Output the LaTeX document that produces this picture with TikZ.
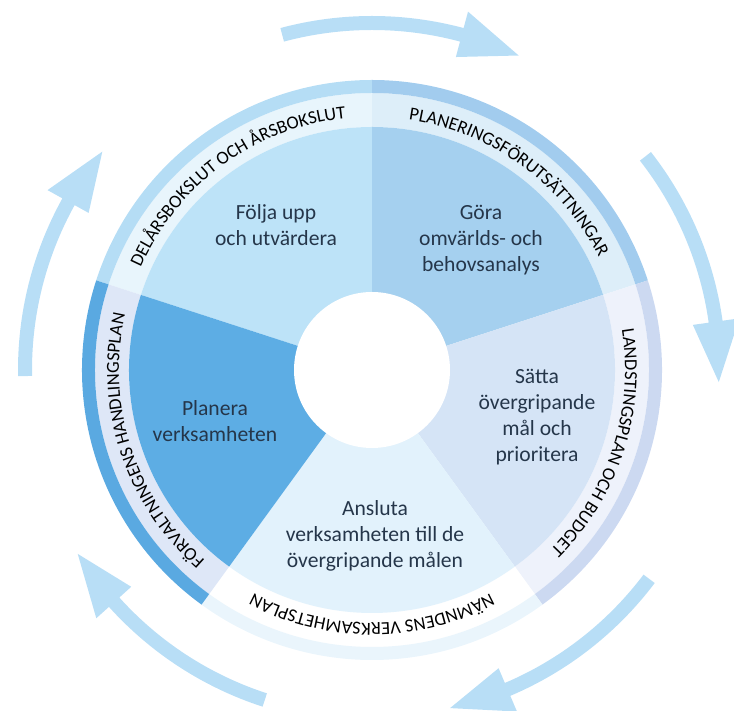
\documentclass[tikz,border=0pt]{standalone}
\usepackage{fontspec}
\setmainfont{Carlito}
\usetikzlibrary{calc,decorations.text}

\definecolor{arrowblue}{HTML}{B8DEF6}
\definecolor{foljafill}{HTML}{BDE3F8}
\definecolor{gorafill}{HTML}{A5D0EF}
\definecolor{sattafill}{HTML}{D5E4F6}
\definecolor{anslutafill}{HTML}{E2F2FC}
\definecolor{planerafill}{HTML}{5DADE4}
\definecolor{textdark}{HTML}{25364A}
\definecolor{delarsband}{HTML}{E8F5FC}
\definecolor{delarsedge}{HTML}{B5DDF5}
\definecolor{planband}{HTML}{DDEEF9}
\definecolor{planedge}{HTML}{A2CCEE}
\definecolor{landband}{HTML}{EEF2FB}
\definecolor{landedge}{HTML}{CCD9F1}
\definecolor{namndedge}{HTML}{EAF5FC}
\definecolor{forvband}{HTML}{DEE7F7}
\definecolor{forvedge}{HTML}{5AA9E1}

\tikzset{
  sectortext/.style={align=center, text=textdark, font=\fontsize{10.8}{13}\selectfont},
  ringtext/.style={decorate, decoration={text along path, text align=center,
      text={|\fontsize{9.2}{10}\selectfont\color{black}|#1}}},
}

% annular segment: start angle, end angle, inner radius, outer radius
\newcommand{\ringpart}[5]{%
  \fill[#5] ($(c)+(#1:#4)$) arc[start angle=#1, end angle=#2, radius=#4]
    -- ($(c)+(#2:#3)$) arc[start angle=#2, end angle=#1, radius=#3] -- cycle;}

% curved arrow: tail angle, tip angle (clockwise)
\newcommand{\cyclearrow}[2]{%
  \fill[arrowblue] ($(c)+(#1:354)$) arc[start angle=#1, end angle=#2+10, radius=354]
    -- ($(c)+(#2+10:371)$) -- ($(c)+(#2:347)$) -- ($(c)+(#2+10:324)$)
    -- ($(c)+(#2+10:340)$) arc[start angle=#2+10, end angle=#1, radius=340] -- cycle;}

\begin{document}
\begin{tikzpicture}[x=0.5pt,y=0.5pt]
  \useasboundingbox (0,0) rectangle (734,711);
  \coordinate (c) at (372,341);

  % arrows round the wheel
  \cyclearrow{105}{65}
  \cyclearrow{38}{-2}
  \cyclearrow{-37}{-77}
  \cyclearrow{252}{212}
  \cyclearrow{181}{141}

  % outer ring
  \ringpart{90}{162}{243}{277}{delarsband}
  \ringpart{90}{162}{277}{290}{delarsedge}
  \ringpart{18}{90}{243}{277}{planband}
  \ringpart{18}{90}{277}{290}{planedge}
  \ringpart{-54}{18}{243}{277}{landband}
  \ringpart{-54}{18}{277}{290}{landedge}
  \ringpart{234}{306}{243}{277}{white}
  \ringpart{234}{306}{277}{290}{namndedge}
  \ringpart{162}{234}{243}{277}{forvband}
  \ringpart{162}{234}{277}{290}{forvedge}

  % sectors
  \fill[foljafill] (c) -- ($(c)+(90:243)$) arc[start angle=90, end angle=162, radius=243] -- cycle;
  \fill[gorafill] (c) -- ($(c)+(18:243)$) arc[start angle=18, end angle=90, radius=243] -- cycle;
  \fill[sattafill] (c) -- ($(c)+(-54:243)$) arc[start angle=-54, end angle=18, radius=243] -- cycle;
  \fill[anslutafill] (c) -- ($(c)+(234:243)$) arc[start angle=234, end angle=306, radius=243] -- cycle;
  \fill[planerafill] (c) -- ($(c)+(162:243)$) arc[start angle=162, end angle=234, radius=243] -- cycle;
  \fill[white] (c) circle[radius=78];

  \node[sectortext] (folja) at (276,486) {Följa upp\\och utvärdera};
  \node[sectortext] (gora) at (481,471) {Göra\\omvärlds- och\\behovsanalys};
  \node[sectortext] (satta) at (537,294) {Sätta\\övergripande\\mål och\\prioritera};
  \node[sectortext] (ansluta) at (375,175) {Ansluta\\verksamheten till de\\övergripande målen};
  \node[sectortext] (planera) at (215,290) {Planera\\verksamheten};

  % ring labels, read clockwise
  \path[ringtext={DELÅRSBOKSLUT OCH ÅRSBOKSLUT}] ($(c)+(162:253)$) arc[start angle=162, end angle=90, radius=253];
  \path[ringtext={PLANERINGSFÖRUTSÄTTNINGAR}] ($(c)+(90:253)$) arc[start angle=90, end angle=18, radius=253];
  \path[ringtext={LANDSTINGSPLAN OCH BUDGET}] ($(c)+(18:253)$) arc[start angle=18, end angle=-54, radius=253];
  \path[ringtext={NÄMNDENS VERKSAMHETSPLAN}] ($(c)+(306:253)$) arc[start angle=306, end angle=234, radius=253];
  \path[ringtext={FÖRVALTNINGENS HANDLINGSPLAN}] ($(c)+(234:253)$) arc[start angle=234, end angle=162, radius=253];
\end{tikzpicture}
\end{document}
